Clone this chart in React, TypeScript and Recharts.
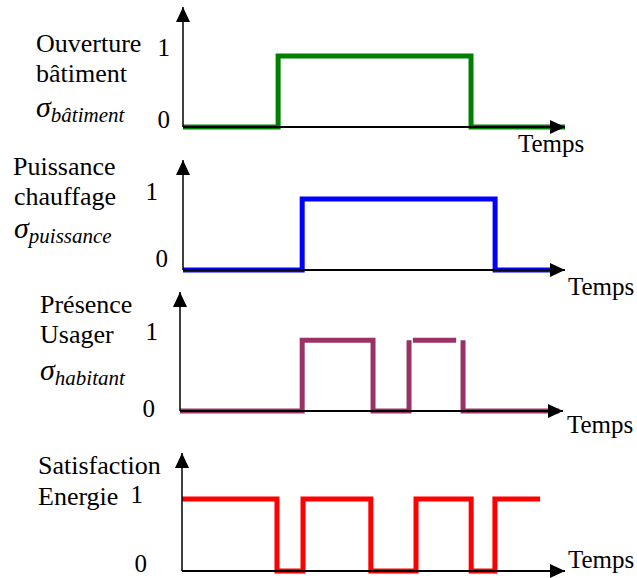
import { LineChart, Line, XAxis, YAxis } from 'recharts';

// time axis runs 0..100, levels are 0/1
const ouvertureTimes = [0, 24.9, 75.4, 100];
const ouvertureLevels = [0, 1, 0, 0];

const puissanceTimes = [0, 31.2, 81.7, 97.4];
const puissanceLevels = [0, 1, 0, 0];

// null = gap in the trace
const presenceTimes = [0, 31.9, 50.4, 59.8, 60.3, 60.8, 72.1, 72.6, 73.9, 73.9, 99];
const presenceLevels = [0, 1, 0, 1, null, 1, 1, null, 1, 0, 0];

const satisfactionTimes = [0, 24.8, 31.6, 49.3, 61.1, 75.5, 81.7, 93.5];
const satisfactionLevels = [1, 0, 1, 0, 1, 0, 1, 1];

const levelTicks = [0, 1];
const xLabel = 'Temps';

const W = 637;
const H = 578;
const FONT = '"Liberation Serif", "Times New Roman", serif';

const toData = (times: number[], levels: (number | null)[]) =>
  times.map((t, i) => ({ t, v: levels[i] }));

const panels = [
  {
    id: 'batiment', data: toData(ouvertureTimes, ouvertureLevels), color: '#008000',
    axisX: 183, tipX: 565, tipY: 7, zeroY: 127, yMax: 1.69,
    tick: { 0: [13, 1], 1: [13, 0] } as Record<number, number[]>,
  },
  {
    id: 'puissance', data: toData(puissanceTimes, puissanceLevels), color: '#0000FF',
    axisX: 183, tipX: 565, tipY: 160, zeroY: 270, yMax: 1.55,
    tick: { 0: [15, -3], 1: [25, 1] } as Record<number, number[]>,
  },
  {
    id: 'habitant', data: toData(presenceTimes, presenceLevels), color: '#993366',
    axisX: 180, tipX: 563, tipY: 292, zeroY: 411, yMax: 1.68,
    tick: { 0: [25, 6], 1: [22, 0] } as Record<number, number[]>,
  },
  {
    id: 'satisfaction', data: toData(satisfactionTimes, satisfactionLevels), color: '#FF0000',
    axisX: 182, tipX: 565, tipY: 453, zeroY: 571, yMax: 1.64,
    tick: { 0: [35, 1], 1: [39, 4] } as Record<number, number[]>,
  },
];

const plainLabels: [string, number, number][] = [
  ['Ouverture', 36, 52],
  ['bâtiment', 36, 82],
  ['Puissance', 13, 175],
  ['chauffage', 14, 205],
  ['Présence', 40, 313],
  ['Usager', 40, 343],
  ['Satisfaction', 38, 474],
  ['Energie', 38, 505],
];

const sigmaLabels: [string, number, number][] = [
  ['bâtiment', 36, 117],
  ['puissance', 14, 238],
  ['habitant', 40, 380],
];

const tempsPos: [number, number][] = [
  [518, 152],
  [568, 295],
  [567, 433],
  [568, 568],
];

const textStyle = { fontFamily: FONT };

function Panel({ cfg }: { cfg: (typeof panels)[number] }) {
  const axisStyle = { stroke: '#000', strokeWidth: 1.5 };
  return (
    <div style={{ position: 'absolute', left: 0, top: 0 }}>
      <LineChart
        width={W}
        height={H}
        data={cfg.data}
        margin={{ top: cfg.tipY, bottom: H - cfg.zeroY - 1, left: cfg.axisX - 1, right: W - cfg.tipX }}
      >
        <XAxis
          type="number"
          dataKey="t"
          domain={[0, 100]}
          height={1}
          tick={false}
          tickLine={false}
          axisLine={{ ...axisStyle, strokeWidth: 2, markerEnd: 'url(#arrowHead)' }}
        />
        <YAxis
          type="number"
          domain={[0, cfg.yMax]}
          ticks={levelTicks}
          interval={0}
          width={1}
          tickLine={false}
          axisLine={{ ...axisStyle, markerStart: 'url(#arrowHead)' }}
          tick={(p: any) => {
            const [dx, dy] = cfg.tick[p.payload.value] || [15, 0];
            return (
              <text
                x={cfg.axisX - dx}
                y={p.y + dy}
                textAnchor="end"
                style={textStyle}
                fontSize={25}
                fill="#000"
              >
                {p.payload.value}
              </text>
            );
          }}
        />
        <Line
          type="stepAfter"
          dataKey="v"
          stroke={cfg.color}
          strokeWidth={5}
          strokeLinecap="butt"
          strokeLinejoin="miter"
          dot={false}
          activeDot={false}
          connectNulls={false}
          isAnimationActive={false}
        />
      </LineChart>
    </div>
  );
}

export default function App() {
  return (
    <div style={{ position: 'absolute', left: 0, top: 0, width: W, height: H, background: '#fff', overflow: 'hidden' }}>
      <svg width={0} height={0} style={{ position: 'absolute' }}>
        <defs>
          <marker
            id="arrowHead"
            markerUnits="userSpaceOnUse"
            markerWidth={15}
            markerHeight={14}
            refX={15}
            refY={7}
            orient="auto-start-reverse"
          >
            <path d="M0,0 L15,7 L0,14 z" fill="#000" />
          </marker>
        </defs>
      </svg>
      {panels.map((cfg) => (
        <Panel key={cfg.id} cfg={cfg} />
      ))}
      <svg width={W} height={H} style={{ position: 'absolute', left: 0, top: 0, pointerEvents: 'none' }}>
        <g fill="#000">
          {plainLabels.map(([txt, x, y]) => (
            <text key={txt} x={x} y={y} fontSize={26} style={textStyle}>{txt}</text>
          ))}
          {sigmaLabels.map(([sub, x, y]) => (
            <text key={sub} x={x} y={y} fontStyle="italic" fontSize={30} style={textStyle}>
              σ<tspan fontSize={21} dy={5}>{sub}</tspan>
            </text>
          ))}
          {tempsPos.map(([x, y], i) => (
            <text key={i} x={x} y={y} fontSize={25} style={textStyle}>{xLabel}</text>
          ))}
        </g>
      </svg>
    </div>
  );
}
